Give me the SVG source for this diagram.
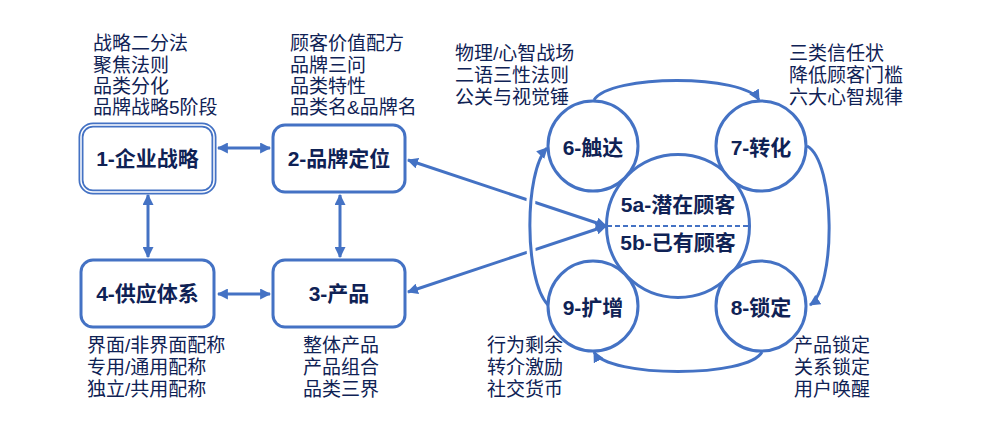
<svg xmlns="http://www.w3.org/2000/svg" width="996" height="446" viewBox="0 0 996 446">
<style>
.box{fill:#fff;stroke:#4472C4;stroke-width:3}
.c{fill:#fff;stroke:#4472C4;stroke-width:3}
.lbl{font-family:"Liberation Sans","Noto Sans CJK SC",sans-serif;font-weight:bold;font-size:21px;fill:#0F2255;text-anchor:middle;dominant-baseline:central}
.note{font-family:"Liberation Sans","Noto Sans CJK SC",sans-serif;font-size:19px;fill:#0F2255}
.ln{fill:none;stroke:#4472C4;stroke-width:3}
</style>
<defs>
<marker id="ah" viewBox="0 0 10 10" refX="9" refY="5" markerWidth="11" markerHeight="11" markerUnits="userSpaceOnUse" orient="auto-start-reverse">
<path d="M0,0 L10,5 L0,10 z" fill="#4472C4"/>
</marker>
</defs>
<rect width="996" height="446" fill="#fff"/>

<g id="connectors">
<line class="ln" x1="218" y1="148" x2="270" y2="148" marker-start="url(#ah)" marker-end="url(#ah)"/>
<line class="ln" x1="148" y1="195" x2="148" y2="257" marker-start="url(#ah)" marker-end="url(#ah)"/>
<line class="ln" x1="340" y1="195" x2="340" y2="257" marker-start="url(#ah)" marker-end="url(#ah)"/>
<line class="ln" x1="218" y1="294" x2="270" y2="294" marker-start="url(#ah)" marker-end="url(#ah)"/>
<line class="ln" x1="408" y1="160" x2="606" y2="226" marker-start="url(#ah)" marker-end="url(#ah)"/>
<line class="ln" x1="408" y1="292" x2="606" y2="226" marker-start="url(#ah)" marker-end="url(#ah)"/>
<path d="M548,305 C524,280 524,172 547,148" fill="none" stroke="#fff" stroke-width="9"/>
<path class="ln" d="M548,305 C524,280 524,172 547,148" marker-end="url(#ah)"/>
<path class="ln" d="M594,100 C610,74 744,74 759,100" marker-end="url(#ah)"/>
<path class="ln" d="M807,146 C836,162 836,288 810,305" marker-end="url(#ah)"/>
<path class="ln" d="M762,352 C748,378 608,378 594,352" marker-end="url(#ah)"/>
</g>

<g id="n1">
<rect x="81" y="125" width="133" height="67" rx="12" fill="#fff" stroke="#4472C4" stroke-width="5"/>
<rect x="81" y="125" width="133" height="67" rx="12" fill="none" stroke="#fff" stroke-width="1.5"/>
<text class="lbl" x="147.5" y="158.5">1-企业战略</text>
</g>
<g id="n2">
<rect class="box" x="273" y="125" width="132" height="67" rx="12"/>
<text class="lbl" x="339" y="158.5">2-品牌定位</text>
</g>
<g id="n3">
<rect class="box" x="273" y="260" width="132" height="67" rx="12"/>
<text class="lbl" x="339" y="293.5">3-产品</text>
</g>
<g id="n4">
<rect class="box" x="81" y="260" width="133" height="67" rx="12"/>
<text class="lbl" x="147.5" y="293.5">4-供应体系</text>
</g>

<g id="n5">
<circle class="c" cx="678" cy="226" r="71.5"/>
<line x1="607" y1="226" x2="749" y2="226" stroke="#4472C4" stroke-width="2" stroke-dasharray="5,3"/>
<text class="lbl" x="678" y="204">5a-潜在顾客</text>
<text class="lbl" x="678" y="242">5b-已有顾客</text>
</g>
<g id="n6">
<circle class="c" cx="593" cy="146" r="45"/>
<text class="lbl" x="593" y="147">6-触达</text>
</g>
<g id="n7">
<circle class="c" cx="761" cy="146" r="45"/>
<text class="lbl" x="761" y="147">7-转化</text>
</g>
<g id="n8">
<circle class="c" cx="761" cy="306" r="45"/>
<text class="lbl" x="761" y="307">8-锁定</text>
</g>
<g id="n9">
<circle class="c" cx="593" cy="306" r="45"/>
<text class="lbl" x="593" y="307">9-扩增</text>
</g>

<g id="notes">
<text class="note" x="93" y="50">战略二分法</text>
<text class="note" x="93" y="72">聚焦法则</text>
<text class="note" x="93" y="93">品类分化</text>
<text class="note" x="93" y="114">品牌战略5阶段</text>

<text class="note" x="290" y="50">顾客价值配方</text>
<text class="note" x="290" y="72">品牌三问</text>
<text class="note" x="290" y="93">品类特性</text>
<text class="note" x="290" y="114">品类名&amp;品牌名</text>

<text class="note" x="455" y="60">物理/心智战场</text>
<text class="note" x="455" y="82">二语三性法则</text>
<text class="note" x="455" y="104">公关与视觉锤</text>

<text class="note" x="789" y="60">三类信任状</text>
<text class="note" x="789" y="82">降低顾客门槛</text>
<text class="note" x="789" y="104">六大心智规律</text>

<text class="note" x="87" y="352">界面/非界面配称</text>
<text class="note" x="87" y="374">专用/通用配称</text>
<text class="note" x="87" y="396">独立/共用配称</text>

<text class="note" x="303" y="352">整体产品</text>
<text class="note" x="303" y="374">产品组合</text>
<text class="note" x="303" y="396">品类三界</text>

<text class="note" x="487" y="352">行为剩余</text>
<text class="note" x="487" y="374">转介激励</text>
<text class="note" x="487" y="396">社交货币</text>

<text class="note" x="794" y="352">产品锁定</text>
<text class="note" x="794" y="374">关系锁定</text>
<text class="note" x="794" y="396">用户唤醒</text>
</g>
</svg>
